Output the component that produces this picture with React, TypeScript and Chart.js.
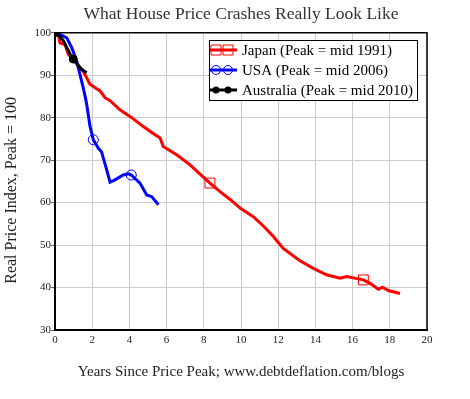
import React, { useEffect, useRef } from "react";
import { Chart, registerables } from "chart.js";

Chart.register(...registerables);

const chartTitle = "What House Price Crashes Really Look Like";
const xAxisTitle = "Years Since Price Peak; www.debtdeflation.com/blogs";
const yAxisTitle = "Real Price Index, Peak = 100";

const seriesNames = [
  "Japan (Peak = mid 1991)",
  "USA (Peak = mid 2006)",
  "Australia (Peak = mid 2010)",
];

const japanX = [0, 0.18, 0.27, 0.54, 0.72, 1.08, 1.52, 1.88, 2.42, 2.69, 2.96, 3.49, 4.03, 4.75, 5.28, 5.65, 5.82, 6.54, 7.26, 7.8, 8.33, 8.87, 9.4, 9.95, 10.66, 11.2, 11.74, 12.27, 13.17, 13.89, 14.6, 15.32, 15.68, 16.58, 16.94, 17.38, 17.6, 17.92, 18.55];
const japanY = [100, 99.6, 97.6, 97.2, 94.9, 93.3, 90.9, 87.9, 86.3, 84.7, 84.0, 81.85, 80.3, 77.9, 76.3, 75.2, 73.2, 71.25, 68.9, 66.7, 64.6, 62.6, 60.8, 58.7, 56.7, 54.5, 52.0, 49.2, 46.3, 44.5, 43.0, 42.2, 42.6, 41.8, 41.0, 39.6, 40.1, 39.3, 38.6];
const japanMarkers = [8.33, 16.58];

const usaX = [0, 0.09, 0.63, 0.9, 1.17, 1.34, 1.52, 1.67, 1.78, 1.88, 2.06, 2.33, 2.5, 2.78, 2.96, 3.2, 3.67, 3.94, 4.1, 4.57, 4.93, 5.2, 5.56];
const usaY = [100, 100, 98.8, 96.5, 93.3, 90.2, 87.0, 84.0, 81.0, 78.0, 74.8, 72.8, 72.0, 67.7, 64.8, 65.3, 66.5, 66.8, 66.5, 64.6, 61.8, 61.4, 59.5];
const usaMarkers = [2.06, 4.1];

const ausX = [0, 0.09, 0.45, 0.81, 0.98, 1.25, 1.43, 1.7];
const ausY = [100, 100, 98.1, 95.0, 93.8, 92.2, 91.4, 90.6];
const ausMarkers = [0, 0.98];

const xMin = 0;
const xMax = 20;
const xStep = 2;
const yMin = 30;
const yMax = 100;
const yStep = 10;

const FONT = "'Liberation Serif', 'Times New Roman', serif";

function pts(xs: number[], ys: number[]) {
  return xs.map((x, i) => ({ x, y: ys[i] }));
}
function radii(xs: number[], marks: number[], r: number) {
  return xs.map((x) => (marks.includes(x) ? r : 0));
}

export default function App() {
  const ref = useRef<HTMLCanvasElement>(null);

  useEffect(() => {
    if (!ref.current) return;

    const frame = {
      id: "frame",
      afterDatasetsDraw(chart: any) {
        const { ctx, chartArea: a } = chart;
        ctx.save();
        ctx.strokeStyle = "#000";
        ctx.lineWidth = 1.5;
        ctx.beginPath();
        ctx.moveTo(a.left, a.top);
        ctx.lineTo(a.right, a.top);
        ctx.lineTo(a.right, a.bottom);
        ctx.stroke();
        ctx.restore();
      },
      afterDraw(chart: any) {
        const { ctx, chartArea: a } = chart;
        ctx.save();
        ctx.translate(12, (a.top + a.bottom) / 2 + 9);
        ctx.rotate(-Math.PI / 2);
        ctx.fillStyle = "#222";
        ctx.font = `16px ${FONT}`;
        ctx.textAlign = "center";
        ctx.textBaseline = "middle";
        ctx.fillText(yAxisTitle, 0, 0);
        ctx.restore();
      },
    };

    const boxLegend = {
      id: "boxLegend",
      afterDraw(chart: any) {
        const { ctx } = chart;
        const bx = 209, by = 40, bw = 208, bh = 60;
        ctx.save();
        ctx.fillStyle = "#fff";
        ctx.fillRect(bx, by, bw, bh);
        ctx.strokeStyle = "#000";
        ctx.lineWidth = 1;
        ctx.strokeRect(bx + 0.5, by + 0.5, bw, bh);
        const colors = ["#ff0000", "#0000ff", "#000000"];
        seriesNames.forEach((name, i) => {
          const cy = by + 10 + i * 20;
          ctx.strokeStyle = colors[i];
          ctx.lineWidth = 3;
          ctx.beginPath();
          ctx.moveTo(bx + 1, cy);
          ctx.lineTo(bx + 28, cy);
          ctx.stroke();
          [bx + 7, bx + 19].forEach((mx) => {
            ctx.lineWidth = 1;
            ctx.beginPath();
            if (i === 0) {
              ctx.rect(mx - 5, cy - 5, 10, 10);
              ctx.stroke();
            } else if (i === 1) {
              ctx.arc(mx, cy, 4.5, 0, Math.PI * 2);
              ctx.stroke();
            } else {
              ctx.fillStyle = "#000";
              ctx.arc(mx, cy, 3.5, 0, Math.PI * 2);
              ctx.fill();
            }
          });
          ctx.fillStyle = "#000";
          ctx.font = `15px ${FONT}`;
          ctx.textBaseline = "middle";
          ctx.textAlign = "left";
          ctx.fillText(name, bx + 33, cy + 1);
        });
        ctx.restore();
      },
    };

    const chart = new Chart(ref.current, {
      type: "line",
      data: {
        datasets: [
          {
            label: seriesNames[0],
            data: pts(japanX, japanY),
            borderColor: "#ff0000",
            backgroundColor: "rgba(0,0,0,0)",
            borderWidth: 3,
            pointStyle: "rect",
            pointRadius: radii(japanX, japanMarkers, 7),
            pointBorderWidth: 1,
            pointBorderColor: "#ff0000",
            pointBackgroundColor: "rgba(0,0,0,0)",
            order: 3,
          },
          {
            label: seriesNames[1],
            data: pts(usaX, usaY),
            borderColor: "#0000ff",
            backgroundColor: "rgba(0,0,0,0)",
            borderWidth: 3,
            pointStyle: "circle",
            pointRadius: radii(usaX, usaMarkers, 5),
            pointBorderWidth: 1,
            pointBorderColor: "#0000ff",
            pointBackgroundColor: "rgba(0,0,0,0)",
            order: 2,
          },
          {
            label: seriesNames[2],
            data: pts(ausX, ausY),
            borderColor: "#000000",
            backgroundColor: "#000000",
            borderWidth: 3,
            pointStyle: "circle",
            pointRadius: radii(ausX, ausMarkers, 4),
            pointBorderWidth: 1,
            pointBorderColor: "#000",
            pointBackgroundColor: "#000",
            order: 1,
          },
        ],
      },
      options: {
        animation: false,
        responsive: false,
        devicePixelRatio: 1,
        layout: { padding: { left: 0, right: 43, top: 0, bottom: 0 } },
        plugins: {
          legend: { display: false },
          tooltip: { enabled: false },
          title: {
            display: true,
            text: chartTitle,
            fullSize: false,
            color: "#333",
            font: { family: FONT, size: 17.5, weight: "normal", lineHeight: 1.1 },
            padding: { top: 5, bottom: 8.5 },
          },
        },
        elements: { line: { tension: 0 } },
        scales: {
          x: {
            type: "linear",
            min: xMin,
            max: xMax,
            afterFit: (s: any) => { s.height = 69; },
            ticks: {
              stepSize: xStep,
              color: "#222",
              padding: 0,
              font: { family: FONT, size: 11 },
            },
            grid: {
              color: "#cccccc",
              lineWidth: 1,
              tickLength: 4,
              tickColor: "rgba(0,0,0,0)",
            },
            border: { display: true, color: "#000", width: 2 },
            title: {
              display: true,
              text: xAxisTitle,
              color: "#222",
              font: { family: FONT, size: 15 },
              padding: { top: 0, bottom: 18 },
            },
          },
          y: {
            type: "linear",
            min: yMin,
            max: yMax,
            afterFit: (s: any) => { s.width = 55; },
            ticks: {
              stepSize: yStep,
              color: "#222",
              padding: 0,
              font: { family: FONT, size: 11 },
            },
            grid: {
              color: "#cccccc",
              lineWidth: 1,
              tickLength: 4,
              tickColor: "#666",
            },
            border: { display: true, color: "#000", width: 2 },
            title: { display: false },
          },
        },
      },
      plugins: [frame, boxLegend],
    } as any);

    return () => chart.destroy();
  }, []);

  return (
    <div style={{ position: "absolute", left: 0, top: 0, width: 470, height: 399, background: "#fff" }}>
      <canvas ref={ref} width={470} height={399} style={{ display: "block" }} />
    </div>
  );
}
